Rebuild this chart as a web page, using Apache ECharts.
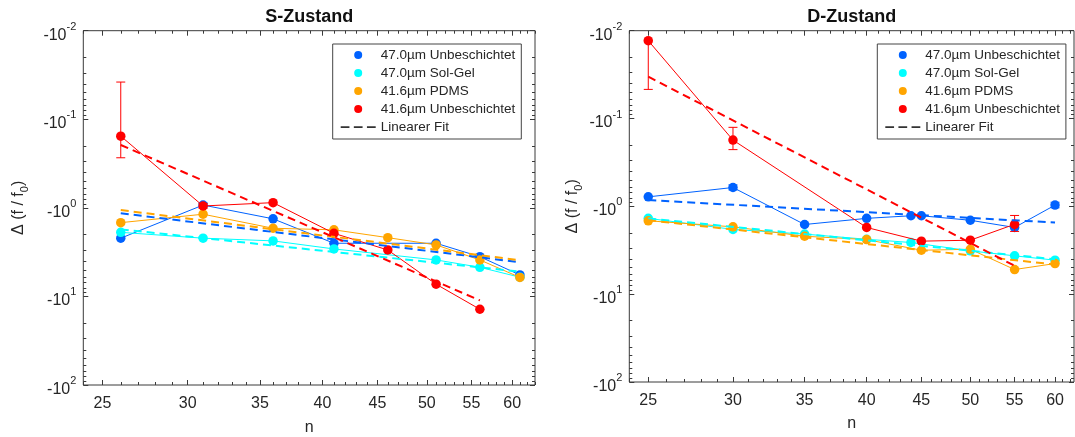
<!DOCTYPE html>
<html><head><meta charset="utf-8">
<script src="https://cdn.jsdelivr.net/npm/echarts@6/dist/echarts.min.js"></script>
<style>html,body{margin:0;padding:0;background:#fff}#c{width:1075px;height:437px}</style>
</head><body><div id="c"></div>
<script>
// ---- tick labels ----
const xTickLabels = [25, 30, 35, 40, 45, 50, 55, 60];
const yTickExponents = [-2, -1, 0, 1, 2];
const panelTitles = ['S-Zustand', 'D-Zustand'];
const seriesNames = ['47.0µm Unbeschichtet', '47.0µm Sol-Gel', '41.6µm PDMS', '41.6µm Unbeschichtet'];
const fitName = 'Linearer Fit';
const colors = ['#0062ff', '#00ffff', '#ffa500', '#ff0000'];

// ---- S-Zustand data ----
const sBlueN = [26, 31, 36, 41, 51, 56, 61];
const sBlueV = [-2.20, -0.93, -1.33, -2.51, -2.51, -3.56, -5.72];
const sBlueE = [0, 0.05, 0, 0, 0, 0, 0];
const sCyanN = [26, 31, 36, 41, 51, 56, 61];
const sCyanV = [-1.89, -2.20, -2.36, -2.91, -3.87, -4.69, -6.07];
const sCyanE = [0, 0, 0, 0, 0, 0, 0];
const sOrangeN = [26, 31, 36, 41, 46, 51, 56, 61];
const sOrangeV = [-1.47, -1.18, -1.70, -1.77, -2.17, -2.62, -3.87, -6.10];
const sOrangeE = [0, 0, 0, 0, 0, 0, 0, 0];
const sRedN = [26, 31, 36, 41, 46, 51, 56];
const sRedV = [-0.155, -0.953, -0.873, -1.94, -2.99, -7.28, -13.96];
const sRedE = [0.117, 0.06, 0, 0, 0, 0, 0];
// linear fits (end points)
const sFitBlueN = [26, 61],   sFitBlueV = [-1.15, -4.11];
const sFitCyanN = [26, 61],   sFitCyanV = [-1.75, -5.25];
const sFitOrangeN = [26, 61], sFitOrangeV = [-1.06, -3.90];
const sFitRedN = [26, 56],    sFitRedV = [-0.195, -11.1];

// ---- D-Zustand data ----
const dBlueN = [25, 30, 35, 40, 44, 45, 50, 55, 60];
const dBlueV = [-0.78, -0.61, -1.61, -1.37, -1.28, -1.28, -1.44, -1.74, -0.968];
const dBlueE = [0, 0.04, 0, 0, 0, 0, 0, 0, 0.07];
const dCyanN = [25, 30, 35, 40, 44, 50, 55, 60];
const dCyanV = [-1.37, -1.83, -2.07, -2.37, -2.58, -3.21, -3.66, -4.10];
const dCyanE = [0, 0, 0, 0, 0, 0, 0, 0];
const dOrangeN = [25, 30, 35, 40, 45, 50, 55, 60];
const dOrangeV = [-1.46, -1.71, -2.19, -2.39, -3.16, -3.08, -5.24, -4.48];
const dOrangeE = [0, 0, 0, 0, 0, 0, 0, 0];
const dRedN = [25, 30, 40, 45, 50, 55];
const dRedV = [-0.0130, -0.176, -1.74, -2.49, -2.43, -1.60];
const dRedE = [0.0336, 0.05, 0, 0, 0, 0.33];
const dFitBlueN = [25, 60],   dFitBlueV = [-0.849, -1.53];
const dFitCyanN = [25, 60],   dFitCyanV = [-1.37, -4.00];
const dFitOrangeN = [25, 60], dFitOrangeV = [-1.44, -4.60];
const dFitRedN = [25, 55],    dFitRedV = [-0.0334, -4.75];

// ---- option building ----
const L = Math.log10;
const panels = [
  { data: [[sBlueN, sBlueV, sBlueE], [sCyanN, sCyanV, sCyanE], [sOrangeN, sOrangeV, sOrangeE], [sRedN, sRedV, sRedE]],
    fits: [[sFitBlueN, sFitBlueV], [sFitCyanN, sFitCyanV], [sFitOrangeN, sFitOrangeV], [sFitRedN, sFitRedV]],
    xMin: 24, xMax: 63 },
  { data: [[dBlueN, dBlueV, dBlueE], [dCyanN, dCyanV, dCyanE], [dOrangeN, dOrangeV, dOrangeE], [dRedN, dRedV, dRedE]],
    fits: [[dFitBlueN, dFitBlueV], [dFitCyanN, dFitCyanV], [dFitOrangeN, dFitOrangeV], [dFitRedN, dFitRedV]],
    xMin: 24, xMax: 62.5 }
];
const gridsPos = [
  { left: 83.3, top: 30.7, width: 451.7, height: 354.3 },
  { left: 629.3, top: 30.7, width: 444.7, height: 351.3 }
];
const FONT = 'Liberation Sans, Arial, sans-serif';
const TXT = '#262626';
const AX = '#3a3a3a';

const xMajor = xTickLabels.map(L);
const xMinor = [];
for (let n = 24; n <= 63; n++) if (xTickLabels.indexOf(n) < 0) xMinor.push(L(n));
const yMinor = [];
for (let e = -2; e < 2; e++) for (let k = 2; k <= 9; k++) yMinor.push(e + L(k));

const grid = [], xAxis = [], yAxis = [], series = [], title = [], legend = [];

panels.forEach((p, gi) => {
  grid.push(Object.assign({ show: true, borderColor: AX, borderWidth: 1, backgroundColor: '#fff', outerBoundsMode: 'none', containLabel: false }, gridsPos[gi]));
  const g = gridsPos[gi];
  title.push({ text: panelTitles[gi], left: g.left + g.width / 2, top: 8, textAlign: 'center', padding: 0,
    textStyle: { fontFamily: FONT, fontSize: 18, fontWeight: 'bold', color: '#111' } });

  const xBase = { type: 'value', gridIndex: gi, min: L(p.xMin), max: L(p.xMax), axisLine: { show: false, onZero: false }, splitLine: { show: false } };
  xAxis.push(Object.assign({}, xBase, { position: 'bottom',
    axisTick: { show: true, inside: true, length: 5, lineStyle: { color: AX }, customValues: xMajor },
    axisLabel: { customValues: xMajor, formatter: v => String(Math.round(Math.pow(10, v))), fontFamily: FONT, fontSize: 16, color: TXT, margin: 11 },
    name: 'n', nameLocation: 'middle', nameGap: gi ? 34 : 35, nameTextStyle: { fontFamily: FONT, fontSize: 16, color: TXT } }));
  xAxis.push(Object.assign({}, xBase, { position: 'bottom', axisLabel: { show: false },
    axisTick: { show: true, inside: true, length: 3, lineStyle: { color: AX }, customValues: xMinor } }));
  xAxis.push(Object.assign({}, xBase, { position: 'top', axisLabel: { show: false },
    axisTick: { show: true, inside: true, length: 5, lineStyle: { color: AX }, customValues: xMajor } }));
  xAxis.push(Object.assign({}, xBase, { position: 'top', axisLabel: { show: false },
    axisTick: { show: true, inside: true, length: 3, lineStyle: { color: AX }, customValues: xMinor } }));

  const yBase = { type: 'value', gridIndex: gi, min: -2, max: 2, inverse: true, axisLine: { show: false, onZero: false }, splitLine: { show: false } };
  const yMajor = yTickExponents.slice();
  yAxis.push(Object.assign({}, yBase, { position: 'left', interval: 1,
    axisTick: { show: true, inside: true, length: 5, lineStyle: { color: AX }, customValues: yMajor },
    axisLabel: { customValues: yMajor, margin: 7, color: TXT, fontFamily: FONT,
      formatter: v => '{b|-10}{s|' + Math.round(v) + '}',
      rich: { b: { fontSize: 16, fontFamily: FONT, color: TXT, verticalAlign: 'bottom', lineHeight: 25 },
              s: { fontSize: 11, fontFamily: FONT, color: TXT, verticalAlign: 'top', lineHeight: 25, padding: [3, 0, 0, 0] } } },
    name: '{a|Δ (f / f}{u|0}{a|)}', nameLocation: 'middle', nameGap: gi ? 45 : 53,
    nameTextStyle: { rich: { a: { fontSize: 16, fontFamily: FONT, color: TXT, verticalAlign: 'top', lineHeight: 20 },
                             u: { fontSize: 11, fontFamily: FONT, color: TXT, verticalAlign: 'bottom', lineHeight: 20 } } } }));
  yAxis.push(Object.assign({}, yBase, { position: 'left', axisLabel: { show: false },
    axisTick: { show: true, inside: true, length: 3, lineStyle: { color: AX }, customValues: yMinor } }));
  yAxis.push(Object.assign({}, yBase, { position: 'right', axisLabel: { show: false },
    axisTick: { show: true, inside: true, length: 5, lineStyle: { color: AX }, customValues: yMajor } }));
  yAxis.push(Object.assign({}, yBase, { position: 'right', axisLabel: { show: false },
    axisTick: { show: true, inside: true, length: 3, lineStyle: { color: AX }, customValues: yMinor } }));

  const ax = gi * 4;
  p.data.forEach((d, si) => {
    const [ns, vs, es] = d;
    const pts = ns.map((n, i) => [L(n), L(Math.abs(vs[i]))]);
    const errData = [];
    ns.forEach((n, i) => {
      if (!es[i]) return;
      const m = Math.abs(vs[i]);
      errData.push([L(n), L(m), L(m + es[i]), m - es[i] > 0 ? L(m - es[i]) : 9]);
    });
    const c = colors[si];
    series.push({ type: 'custom', xAxisIndex: ax, yAxisIndex: ax, data: errData, silent: true, z: 2 + si * 2,
      encode: { x: 0, y: 1 },
      renderItem: (params, api) => {
        const x = api.value(0);
        const pc = api.coord([x, api.value(1)]);
        const ph = api.coord([x, api.value(2)]);
        const lv = api.value(3);
        const hasLo = lv < 5;
        const pl = hasLo ? api.coord([x, lv]) : pc;
        const w = 4.5;
        const st = { stroke: c, lineWidth: 1 };
        const ch = [
          { type: 'line', shape: { x1: pl[0], y1: pl[1], x2: ph[0], y2: ph[1] }, style: st },
          { type: 'line', shape: { x1: ph[0] - w, y1: ph[1], x2: ph[0] + w, y2: ph[1] }, style: st }
        ];
        if (hasLo) ch.push({ type: 'line', shape: { x1: pl[0] - w, y1: pl[1], x2: pl[0] + w, y2: pl[1] }, style: st });
        return { type: 'group', children: ch };
      } });
    series.push({ type: 'line', name: seriesNames[si], xAxisIndex: ax, yAxisIndex: ax, data: pts,
      symbol: 'circle', symbolSize: 9.5, showSymbol: true, z: 3 + si * 2,
      lineStyle: { color: c, width: 1 }, itemStyle: { color: c }, emphasis: { disabled: true } });
  });
  p.fits.forEach((f, si) => {
    const [ns, vs] = f;
    series.push({ type: 'line', name: 'fit' + gi + '_' + si, xAxisIndex: ax, yAxisIndex: ax,
      data: ns.map((n, i) => [L(n), L(Math.abs(vs[i]))]), symbol: 'none', z: 12 + si,
      lineStyle: { color: colors[si], width: 2, type: [8, 5] }, emphasis: { disabled: true } });
  });

  legend.push({ orient: 'vertical', left: gi ? 877.3 : 332.7, top: 44, padding: [2, 6, 3, 8], itemWidth: 35, itemHeight: 8, itemGap: 0,
    borderColor: '#444', borderWidth: 1, backgroundColor: '#fff', selectedMode: false, z: 20,
    textStyle: { fontFamily: FONT, fontSize: 13.5, color: TXT, lineHeight: 18 },
    data: seriesNames.map(n => ({ name: n, icon: 'circle' })).concat([{ name: fitName, icon: 'path://M0,0h10v2h-10z M15,0h10v2h-10z M30,0h10v2h-10z' }]) });
});
series.push({ type: 'line', name: fitName, xAxisIndex: 0, yAxisIndex: 0, data: [], color: '#333', lineStyle: { color: '#333' }, itemStyle: { color: '#333' } });

const chart = echarts.init(document.getElementById('c'), null, { renderer: 'canvas' });
chart.setOption({ animation: false, backgroundColor: '#fff', title, legend, grid, xAxis, yAxis, series });
</script></body></html>
